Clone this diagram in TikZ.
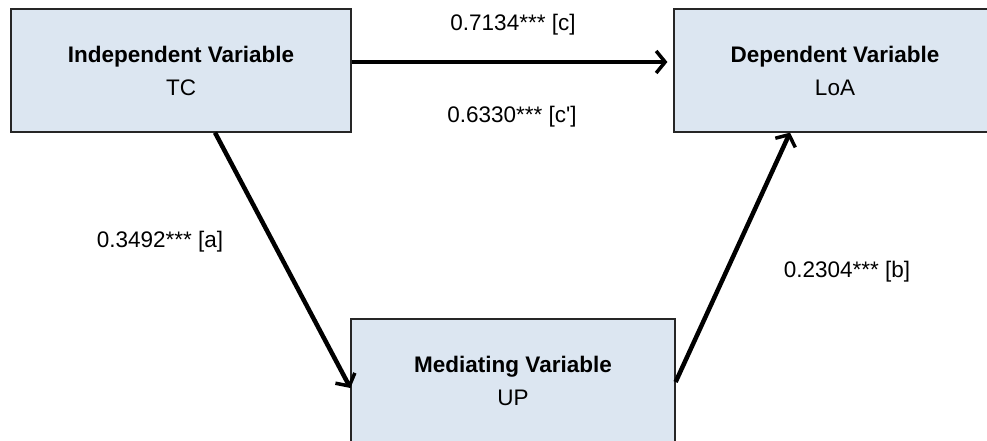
\documentclass[tikz,border=0pt]{standalone}
\usepackage{fontspec}
\setmainfont{Liberation Sans}
\usetikzlibrary{arrows.meta,positioning}
\definecolor{boxfill}{HTML}{DCE6F1}
\tikzset{
  varbox/.style={draw=black!85,line width=1.2pt,fill=boxfill,align=center,
    minimum width=#1,minimum height=123pt,inner sep=0pt,
    font=\fontsize{22.5}{33}\selectfont},
  varbox/.default=340pt,
  link/.style={line width=4.5pt,-{Straight Barb[length=9pt,width=22pt,line width=3.5pt]}},
  coef/.style={font=\fontsize{22.5}{26}\selectfont,inner sep=0pt}
}

\begin{document}
\begin{tikzpicture}[x=1pt,y=-1pt]
    \clip (0,0) rectangle (987,441);
    \node[varbox] (iv) at (181,70.5) {\textbf{Independent Variable}\\TC};
    \node[varbox=322pt] (dv) at (835,70.5) {\textbf{Dependent Variable}\\LoA};
    \node[varbox=324pt] (mv) at (513,380.5) {\textbf{Mediating Variable}\\UP};
    \draw[link] ([yshift=8.5pt]iv.east) -- ([xshift=-6pt,yshift=8.5pt]dv.west);
    \draw[link] ([xshift=34pt]iv.south) -- ([yshift=-7.5pt]mv.west);
    \draw[link] ([yshift=-1.5pt]mv.east) -- ([xshift=-45pt]dv.south);
    \node[coef] (c) at (513,25) {0.7134*** [c]};
    \node[coef] (cp) at (512,117) {0.6330*** [c\textquotesingle]};
    \node[coef] (a) at (160,242) {0.3492*** [a]};
    \node[coef] (b) at (847,272) {0.2304*** [b]};
\end{tikzpicture}
\end{document}
